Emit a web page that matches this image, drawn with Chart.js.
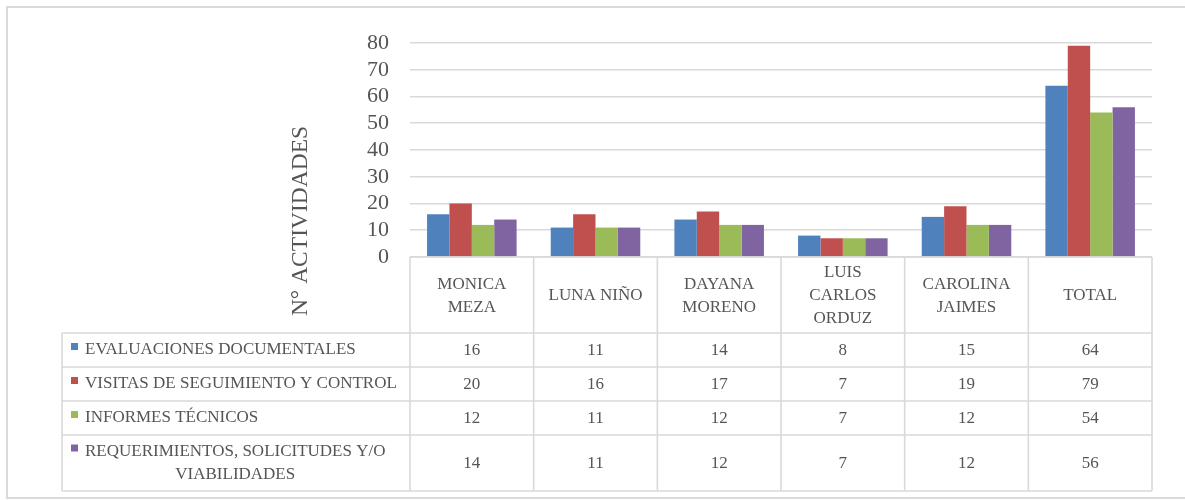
<!DOCTYPE html>
<html>
<head>
<meta charset="utf-8">
<script src="https://cdn.jsdelivr.net/npm/chart.js@4/dist/chart.umd.min.js"></script>
<style>
  html, body { margin: 0; padding: 0; background: #ffffff; }
  #wrap { width: 1185px; height: 500px; }
</style>
</head>
<body>
<div id="wrap"><canvas id="chart" width="1185" height="500"></canvas></div>
<script>
// Activity counts per person, plus the overall total
const categories = ['MONICA MEZA', 'LUNA NIÑO', 'DAYANA MORENO', 'LUIS CARLOS ORDUZ', 'CAROLINA JAIMES', 'TOTAL'];
const headerLines = [['MONICA', 'MEZA'], ['LUNA NIÑO'], ['DAYANA', 'MORENO'], ['LUIS', 'CARLOS', 'ORDUZ'], ['CAROLINA', 'JAIMES'], ['TOTAL']];

const seriesNames = ['EVALUACIONES DOCUMENTALES', 'VISITAS DE SEGUIMIENTO Y CONTROL', 'INFORMES TÉCNICOS', 'REQUERIMIENTOS, SOLICITUDES Y/O VIABILIDADES'];
const seriesLines = [['EVALUACIONES DOCUMENTALES'], ['VISITAS DE SEGUIMIENTO Y CONTROL'], ['INFORMES TÉCNICOS'], ['REQUERIMIENTOS, SOLICITUDES Y/O', 'VIABILIDADES']];

const evaluaciones = [16, 11, 14, 8, 15, 64];
const visitas = [20, 16, 17, 7, 19, 79];
const informes = [12, 11, 12, 7, 12, 54];
const requerimientos = [14, 11, 12, 7, 12, 56];

const yTicks = [0, 10, 20, 30, 40, 50, 60, 70, 80];
const yTitle = 'N° ACTIVIDADES';

const seriesColors = ['#4f81bd', '#c0504d', '#9bbb59', '#8064a2'];
const seriesData = [evaluaciones, visitas, informes, requerimientos];

const FONT = '"Liberation Serif", "Times New Roman", serif';
const TEXT = '#555555';
const LINE = '#d9d9d9';

// Data table under the plot: header row of names, then one row per series
const HEADER_H = 76;
const ROW_H = [34, 34, 34, 56];
const LEGEND_LEFT = 62;

const tablePlugin = {
  id: 'dataTable',
  beforeDraw(chart) {
    const ctx = chart.ctx;
    ctx.save();
    ctx.fillStyle = '#ffffff';
    ctx.fillRect(0, 0, chart.width, chart.height);
    ctx.strokeStyle = '#d9d9d9';
    ctx.lineWidth = 2;
    ctx.strokeRect(7, 7, chart.width + 20, 491);
    ctx.restore();
  },
  afterDraw(chart) {
    const ctx = chart.ctx;
    const area = chart.chartArea;
    const xs = chart.scales.x;
    const n = categories.length;
    const colW = (area.right - area.left) / n;
    const top = area.bottom;
    const headBottom = top + HEADER_H;
    const rowTops = [headBottom];
    ROW_H.forEach(h => rowTops.push(rowTops[rowTops.length - 1] + h));
    const bottom = rowTops[rowTops.length - 1];

    ctx.save();
    ctx.strokeStyle = LINE;
    ctx.lineWidth = 1.6;

    const hline = (x1, x2, y) => { ctx.beginPath(); ctx.moveTo(x1, y); ctx.lineTo(x2, y); ctx.stroke(); };
    const vline = (x, y1, y2) => { ctx.beginPath(); ctx.moveTo(x, y1); ctx.lineTo(x, y2); ctx.stroke(); };
    hline(area.left, area.right, top);
    rowTops.forEach(y => hline(LEGEND_LEFT, area.right, y));
    vline(LEGEND_LEFT, headBottom, bottom);
    for (let i = 0; i <= n; i++) {
      vline(area.left + i * colW, top, bottom);
    }

    ctx.fillStyle = TEXT;
    ctx.textAlign = 'center';
    ctx.textBaseline = 'middle';
    ctx.font = '17px ' + FONT;

    // header names
    const headMid = (top + headBottom) / 2;
    for (let i = 0; i < n; i++) {
      const cx = xs.getPixelForValue(i);
      const lines = headerLines[i];
      const lh = 23;
      lines.forEach((t, k) => {
        ctx.fillText(t, cx, headMid + (k - (lines.length - 1) / 2) * lh + 1);
      });
    }

    // series rows: legend key, name, values
    seriesNames.forEach((name, r) => {
      const mid = (rowTops[r] + rowTops[r + 1]) / 2;
      const lines = seriesLines[r];
      const lh = 23;
      const firstY = mid - (lines.length - 1) / 2 * lh;
      ctx.fillStyle = seriesColors[r];
      ctx.fillRect(71, firstY - 7, 7, 7);
      ctx.fillStyle = TEXT;
      ctx.textAlign = 'left';
      ctx.fillText(lines[0], 85, firstY);
      const w0 = ctx.measureText(lines[0]).width;
      ctx.textAlign = 'center';
      for (let k = 1; k < lines.length; k++) {
        ctx.fillText(lines[k], 85 + w0 / 2, firstY + k * lh);
      }
      seriesData[r].forEach((v, i) => {
        ctx.fillText(String(v), xs.getPixelForValue(i), mid + 1);
      });
    });

    // rotated axis title
    ctx.save();
    ctx.translate(301, 221);
    ctx.rotate(-Math.PI / 2);
    ctx.font = '23.5px ' + FONT;
    ctx.textAlign = 'center';
    ctx.textBaseline = 'middle';
    ctx.fillText(yTitle, 0, 0);
    ctx.restore();

    ctx.restore();
  }
};

new Chart(document.getElementById('chart'), {
  type: 'bar',
  data: {
    labels: categories,
    datasets: seriesNames.map((name, i) => ({
      label: name,
      data: seriesData[i],
      backgroundColor: seriesColors[i],
      borderWidth: 0,
      categoryPercentage: 0.724,
      barPercentage: 1.0
    }))
  },
  options: {
    responsive: false,
    devicePixelRatio: 1,
    animation: false,
    layout: { padding: { left: 0, right: 33, top: 43, bottom: 243 } },
    plugins: {
      legend: { display: false },
      tooltip: { enabled: false },
      title: { display: false }
    },
    scales: {
      x: { display: false },
      y: {
        min: 0,
        max: 80,
        afterFit(scale) { scale.width = 410; },
        afterBuildTicks(scale) { scale.ticks = yTicks.map(v => ({ value: v })); },
        border: { display: false },
        grid: { color: LINE, lineWidth: 1.6, drawTicks: false },
        ticks: {
          autoSkip: false,
          padding: 21,
          color: TEXT,
          font: { family: FONT, size: 22 }
        }
      }
    }
  },
  plugins: [tablePlugin]
});
</script>
</body>
</html>
